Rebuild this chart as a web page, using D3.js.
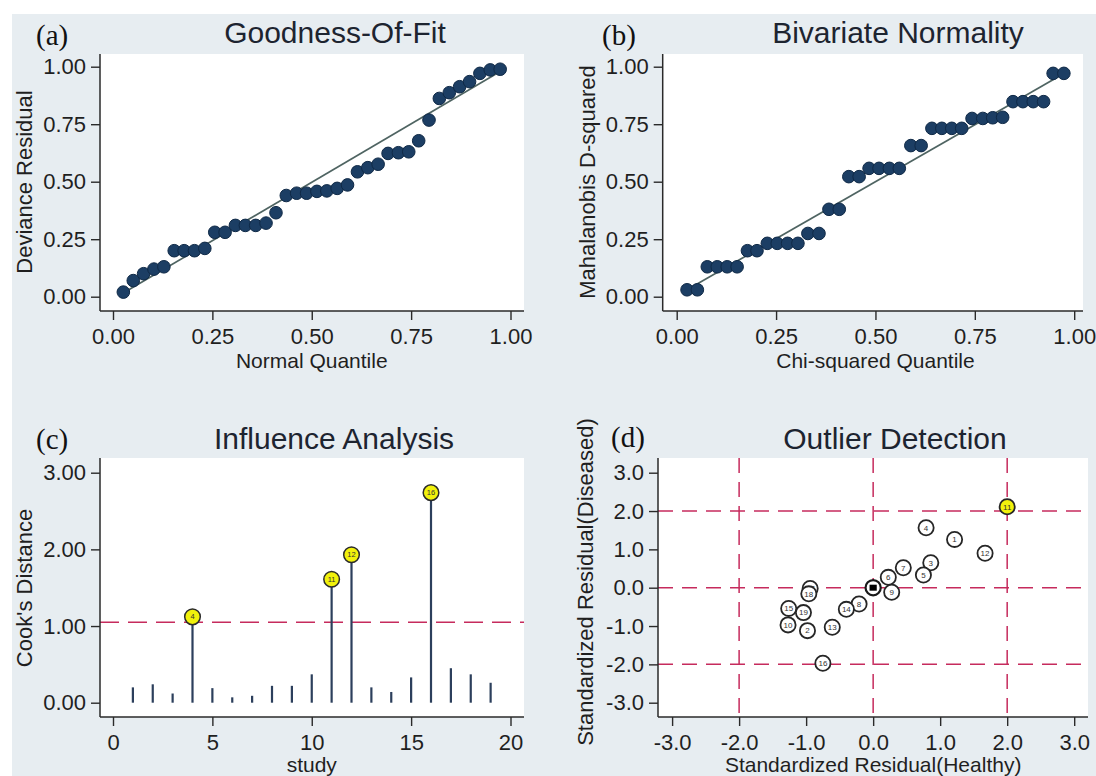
<!DOCTYPE html>
<html>
<head>
<meta charset="utf-8">
<script src="https://cdn.jsdelivr.net/npm/d3@7"></script>
<style>
  html, body { margin: 0; padding: 0; background: #fff; }
  svg { display: block; font-family: "Liberation Sans", Arial, sans-serif; }
</style>
</head>
<body>
<svg id="fig" width="1096" height="776"></svg>
<script>
// ---------- (a) Goodness-of-fit: deviance residual vs normal quantile ----------
const gofQuantile = [0.026, 0.051, 0.077, 0.103, 0.128, 0.154, 0.179, 0.205, 0.231, 0.256,
                     0.282, 0.308, 0.333, 0.359, 0.385, 0.410, 0.436, 0.462, 0.487, 0.513,
                     0.538, 0.564, 0.590, 0.615, 0.641, 0.667, 0.692, 0.718, 0.744, 0.769,
                     0.795, 0.821, 0.846, 0.872, 0.897, 0.923, 0.949, 0.974];
const gofResidual = [0.02, 0.07, 0.10, 0.12, 0.13, 0.20, 0.20, 0.20, 0.21, 0.28,
                     0.28, 0.31, 0.31, 0.31, 0.32, 0.365, 0.44, 0.45, 0.45, 0.458,
                     0.46, 0.471, 0.486, 0.543, 0.561, 0.576, 0.623, 0.626, 0.63, 0.678,
                     0.768, 0.862, 0.887, 0.913, 0.935, 0.971, 0.986, 0.989];
const gofLineX = [0.03, 0.975];
const gofLineY = [0.02, 0.98];

// ---------- (b) Bivariate normality: Mahalanobis D² vs chi-squared quantile ----------
const chiQuantile = [0.026, 0.052, 0.077, 0.102, 0.127, 0.152, 0.178, 0.202, 0.228, 0.253,
                     0.279, 0.305, 0.330, 0.358, 0.383, 0.409, 0.433, 0.459, 0.484, 0.509,
                     0.535, 0.560, 0.589, 0.615, 0.642, 0.667, 0.692, 0.717, 0.743, 0.770,
                     0.795, 0.820, 0.846, 0.871, 0.897, 0.923, 0.947, 0.974];
const mahalanobisD2 = [0.03, 0.03, 0.13, 0.13, 0.13, 0.13, 0.20, 0.20, 0.232, 0.232,
                       0.232, 0.232, 0.275, 0.275, 0.38, 0.38, 0.522, 0.522, 0.558, 0.558,
                       0.558, 0.558, 0.657, 0.657, 0.732, 0.732, 0.732, 0.732, 0.775, 0.775,
                       0.778, 0.78, 0.848, 0.848, 0.848, 0.848, 0.971, 0.971];
const chiLineX = [0.026, 0.974];
const chiLineY = [0.03, 0.97];

// ---------- (c) Influence analysis: Cook's distance per study ----------
const studies = [1, 2, 3, 4, 5, 6, 7, 8, 9, 10, 11, 12, 13, 14, 15, 16, 17, 18, 19];
const cooksDistance = [0.20, 0.24, 0.12, 1.12, 0.19, 0.07, 0.09, 0.22, 0.22, 0.37,
                       1.61, 1.93, 0.20, 0.14, 0.33, 2.74, 0.45, 0.37, 0.26];
const cooksThreshold = 1.05;
const influentialStudies = [4, 11, 12, 16];

// ---------- (d) Outlier detection: standardized residuals ----------
const residHealthy  = [1.215, -0.98, 0.86, 0.79, 0.75, 0.226, 0.45, -0.21, 0.277, -1.27,
                       2.0, 1.67, -0.61, -0.40, -1.26, -0.75, -0.94, -0.96, -1.04];
const residDiseased = [1.26, -1.12, 0.65, 1.565, 0.33, 0.27, 0.52, -0.425, -0.12, -0.97,
                       2.11, 0.90, -1.03, -0.565, -0.54, -1.97, -0.02, -0.16, -0.65];
const outlierStudies = [11];
const residRefLines = [-2, 0, 2];

// ---------- tick values ----------
const unitTicks = [0, 0.25, 0.5, 0.75, 1];
const studyTicks = [0, 5, 10, 15, 20];
const cooksTicks = [0, 1, 2, 3];
const residTicks = [-3, -2, -1, 0, 1, 2, 3];

// ---------- drawing ----------
const svg = d3.select("#fig");
const FONT = '"Liberation Sans", Arial, sans-serif';
const SERIF = '"Liberation Serif", "Times New Roman", serif';
const INK = "#1f1f1f";
const DOT_FILL = "#1c3e64";
const DOT_STROKE = "#0f2946";
const FIT_LINE = "#4f6462";
const DASH = "#c62b5d";
const YELLOW = "#f1f10c";

// figure backdrop
svg.append("rect").attr("x", 12).attr("y", 14).attr("width", 1084).attr("height", 762)
  .attr("fill", "#e7edf1");

const fmt2 = d => d.toFixed(2);
const fmt0 = d => String(d);
const fmt1 = d => d.toFixed(1);

function panel(p) {
  const x = d3.scaleLinear().domain(p.xDomain).range(p.xRange);
  const y = d3.scaleLinear().domain(p.yDomain).range(p.yRange);
  const layers = {
    bg: svg.append("g"),
    ref: svg.append("g"),
    data: svg.append("g"),
    axes: svg.append("g")
  };
  layers.bg.append("rect")
    .attr("x", p.left).attr("y", p.top)
    .attr("width", p.right - p.left).attr("height", p.bottom - p.top)
    .attr("fill", "#ffffff");

  const yAxis = d3.axisLeft(y).tickValues(p.yTicks).tickFormat(p.yFmt)
    .tickSize(9).tickPadding(5).tickSizeOuter(0);
  const xAxis = d3.axisBottom(x).tickValues(p.xTicks).tickFormat(p.xFmt)
    .tickSize(9).tickPadding(8).tickSizeOuter(0);
  const gy = layers.axes.append("g").attr("transform", `translate(${p.left},0)`).call(yAxis);
  const gx = layers.axes.append("g").attr("transform", `translate(0,${p.bottom})`).call(xAxis);
  [gx, gy].forEach(a => {
    a.select(".domain").remove();
    a.attr("font-size", 22).attr("font-family", FONT).attr("color", INK);
    a.selectAll("line").attr("stroke", "#2a2a2a").attr("stroke-width", 1.4);
  });
  layers.axes.append("line")
    .attr("x1", p.left).attr("x2", p.left).attr("y1", p.top).attr("y2", p.bottom)
    .attr("stroke", "#2a2a2a").attr("stroke-width", 1.5);
  layers.axes.append("line")
    .attr("x1", p.left).attr("x2", p.right).attr("y1", p.bottom).attr("y2", p.bottom)
    .attr("stroke", "#2a2a2a").attr("stroke-width", 1.5);

  // title, panel letter, axis titles
  svg.append("text").attr("x", p.titleX).attr("y", p.titleY)
    .attr("text-anchor", "middle").attr("font-family", FONT).attr("font-size", 30)
    .attr("fill", "#1d2430").text(p.title);
  svg.append("text").attr("x", p.letterX).attr("y", p.letterY)
    .attr("font-family", SERIF).attr("font-size", 29).attr("fill", "#111").text(p.letter);
  svg.append("text")
    .attr("x", (p.xRange[0] + p.xRange[1]) / 2).attr("y", p.bottom + p.xTitleGap)
    .attr("text-anchor", "middle").attr("font-family", FONT).attr("font-size", 21)
    .attr("fill", INK).text(p.xTitle);
  svg.append("text")
    .attr("transform", `translate(${p.yTitleX},${p.yTitleY}) rotate(-90)`)
    .attr("text-anchor", "middle").attr("font-family", FONT).attr("font-size", 22)
    .attr("fill", INK).text(p.yTitle);

  return { x, y, layers };
}

// ----- (a) -----
{
  const { x, y, layers } = panel({
    left: 100, right: 524, top: 54, bottom: 311,
    xDomain: [0, 1], xRange: [113, 510.5], yDomain: [0, 1], yRange: [296.7, 66.7],
    xTicks: unitTicks, yTicks: unitTicks, xFmt: fmt2, yFmt: fmt2,
    title: "Goodness-Of-Fit", titleX: 335, titleY: 43,
    letter: "(a)", letterX: 36, letterY: 45,
    xTitle: "Normal Quantile", xTitleGap: 57,
    yTitle: "Deviance Residual", yTitleX: 32, yTitleY: 182
  });
  layers.data.append("line")
    .attr("x1", x(gofLineX[0])).attr("y1", y(gofLineY[0]))
    .attr("x2", x(gofLineX[1])).attr("y2", y(gofLineY[1]))
    .attr("stroke", FIT_LINE).attr("stroke-width", 1.7);
  layers.data.selectAll("circle").data(gofQuantile).join("circle")
    .attr("cx", d => x(d)).attr("cy", (d, i) => y(gofResidual[i])).attr("r", 6.3)
    .attr("fill", DOT_FILL).attr("stroke", DOT_STROKE).attr("stroke-width", 1);
}

// ----- (b) -----
{
  const { x, y, layers } = panel({
    left: 662.7, right: 1083, top: 54, bottom: 311,
    xDomain: [0, 1], xRange: [676.7, 1074.2], yDomain: [0, 1], yRange: [296.7, 66.7],
    xTicks: unitTicks, yTicks: unitTicks, xFmt: fmt2, yFmt: fmt2,
    title: "Bivariate Normality", titleX: 898, titleY: 43,
    letter: "(b)", letterX: 602, letterY: 45,
    xTitle: "Chi-squared Quantile", xTitleGap: 57,
    yTitle: "Mahalanobis D-squared", yTitleX: 595, yTitleY: 182
  });
  layers.data.append("line")
    .attr("x1", x(chiLineX[0])).attr("y1", y(chiLineY[0]))
    .attr("x2", x(chiLineX[1])).attr("y2", y(chiLineY[1]))
    .attr("stroke", FIT_LINE).attr("stroke-width", 1.7);
  layers.data.selectAll("circle").data(chiQuantile).join("circle")
    .attr("cx", d => x(d)).attr("cy", (d, i) => y(mahalanobisD2[i])).attr("r", 6.3)
    .attr("fill", DOT_FILL).attr("stroke", DOT_STROKE).attr("stroke-width", 1);
}

// ----- (c) -----
{
  const left = 100, right = 524;
  const { x, y, layers } = panel({
    left, right, top: 458, bottom: 717,
    xDomain: [0, 20], xRange: [113, 510.5], yDomain: [0, 3], yRange: [702.7, 472.7],
    xTicks: studyTicks, yTicks: cooksTicks, xFmt: fmt0, yFmt: fmt2,
    title: "Influence Analysis", titleX: 334, titleY: 449,
    letter: "(c)", letterX: 36, letterY: 449,
    xTitle: "study", xTitleGap: 55,
    yTitle: "Cook's Distance", yTitleX: 32, yTitleY: 588
  });
  layers.ref.append("line")
    .attr("x1", left).attr("x2", right)
    .attr("y1", y(cooksThreshold)).attr("y2", y(cooksThreshold))
    .attr("stroke", DASH).attr("stroke-width", 1.6).attr("stroke-dasharray", "19,9");
  layers.data.selectAll("line.spike").data(studies).join("line").attr("class", "spike")
    .attr("x1", d => x(d)).attr("x2", d => x(d))
    .attr("y1", y(0)).attr("y2", (d, i) => y(cooksDistance[i]))
    .attr("stroke", "#2c3f5c").attr("stroke-width", 2.2);
  const marked = studies.filter(s => influentialStudies.includes(s));
  const mg = layers.data.selectAll("g.mark").data(marked).join("g").attr("class", "mark")
    .attr("transform", d => `translate(${x(d)},${y(cooksDistance[d - 1])})`);
  mg.append("circle").attr("r", 7.8).attr("fill", YELLOW)
    .attr("stroke", "#2b2b2b").attr("stroke-width", 1.5);
  mg.append("text").attr("text-anchor", "middle").attr("dy", "0.35em")
    .attr("font-family", FONT).attr("font-size", 7.5).attr("fill", "#333").text(d => d);
}

// ----- (d) -----
{
  const left = 658, right = 1088, top = 458, bottom = 717;
  const { x, y, layers } = panel({
    left, right, top, bottom,
    xDomain: [-3, 3], xRange: [672.1, 1074.2], yDomain: [-3, 3], yRange: [702.7, 472.7],
    xTicks: residTicks, yTicks: residTicks, xFmt: fmt1, yFmt: fmt1,
    title: "Outlier Detection", titleX: 895, titleY: 449,
    letter: "(d)", letterX: 611, letterY: 447,
    xTitle: "Standardized Residual(Healthy)", xTitleGap: 55,
    yTitle: "Standardized Residual(Diseased)", yTitleX: 593, yTitleY: 582
  });
  residRefLines.forEach(v => {
    layers.ref.append("line")
      .attr("x1", x(v)).attr("x2", x(v)).attr("y1", top).attr("y2", bottom)
      .attr("stroke", DASH).attr("stroke-width", 1.5).attr("stroke-dasharray", "15,9");
    layers.ref.append("line")
      .attr("x1", left).attr("x2", right).attr("y1", y(v)).attr("y2", y(v))
      .attr("stroke", DASH).attr("stroke-width", 1.5).attr("stroke-dasharray", "15,9");
  });
  const sg = layers.data.selectAll("g.study").data(studies).join("g").attr("class", "study")
    .attr("transform", (d, i) => `translate(${x(residHealthy[i])},${y(residDiseased[i])})`);
  sg.append("circle").attr("r", 7.6)
    .attr("fill", d => outlierStudies.includes(d) ? YELLOW : "#ffffff")
    .attr("stroke", "#262626").attr("stroke-width", 1.8);
  sg.append("text").attr("text-anchor", "middle").attr("dy", "0.35em")
    .attr("font-family", FONT).attr("font-size", 8).attr("fill", "#333").text(d => d);
  // pooled centre marker
  const c = layers.data.append("g").attr("transform", `translate(${x(0)},${y(0)})`);
  c.append("circle").attr("r", 7.6).attr("fill", "#fff").attr("stroke", "#1a1a1a").attr("stroke-width", 2.2);
  c.append("rect").attr("x", -3.6).attr("y", -3).attr("width", 7.2).attr("height", 6).attr("fill", "#000");
}
</script>
</body>
</html>
